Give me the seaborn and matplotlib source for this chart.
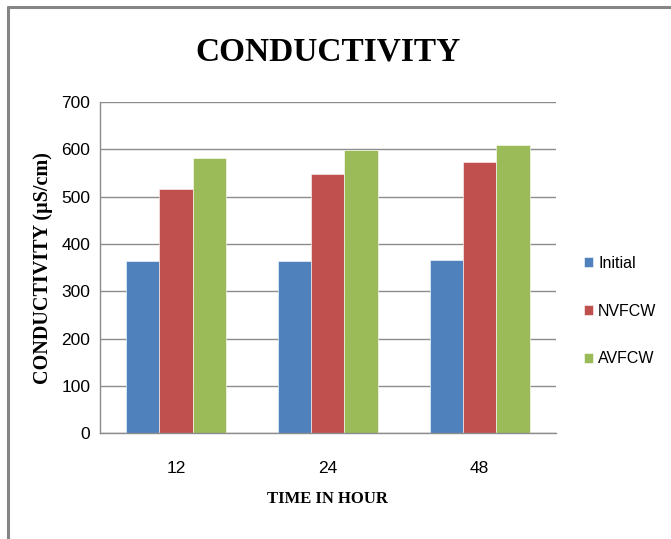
import numpy as np
import pandas as pd
import matplotlib.pyplot as plt
import matplotlib.lines as mlines
import seaborn as sns

# data
hours = ["12", "24", "48"]
initial = [363, 363, 366]
nvfcw = [515, 548, 573]
avfcw = [582, 599, 609]
series = ["Initial", "NVFCW", "AVFCW"]
colors = ["#4f81bd", "#c0504d", "#9bbb59"]
yticks = [0, 100, 200, 300, 400, 500, 600, 700]

df = pd.DataFrame({
    "hour": hours * 3,
    "value": initial + nvfcw + avfcw,
    "series": [s for s in series for _ in hours],
})

sns.set_theme(style="white")
narrow = ["Liberation Sans Narrow", "Liberation Sans", "DejaVu Sans"]
serif = ["Liberation Serif", "DejaVu Serif"]
plt.rcParams["font.family"] = narrow
plt.rcParams["text.color"] = "black"
plt.rcParams["xtick.color"] = "black"
plt.rcParams["ytick.color"] = "black"
plt.rcParams["axes.labelcolor"] = "black"

fig = plt.figure(figsize=(6.71, 5.39), dpi=100)
ax = fig.add_axes([0.149, 0.196, 0.679, 0.615])

sns.barplot(data=df, x="hour", y="value", hue="series", hue_order=series,
            palette=colors, width=0.66, ax=ax, saturation=1,
            edgecolor="white", linewidth=0.4)

ax.set_ylim(0, 700)
ax.set_yticks(yticks)
ax.set_xlim(-0.5, 2.5)
ax.yaxis.grid(True, color="#8c8c8c", linewidth=1.0)
ax.set_axisbelow(True)
for side in ["top", "right"]:
    ax.spines[side].set_visible(False)
for side in ["left", "bottom"]:
    ax.spines[side].set_color("#8c8c8c")
    ax.spines[side].set_linewidth(1.0)
ax.tick_params(axis="y", length=4, color="#8c8c8c", width=1.0, labelsize=12.5,
               pad=3, labelcolor="black")
ax.tick_params(axis="x", length=0, labelsize=12.5, pad=20, labelcolor="black")

ax.set_title("CONDUCTIVITY", family=serif, fontweight="bold", fontsize=24,
             pad=30, color="black")
ax.set_ylabel("CONDUCTIVITY (\u00b5S/cm)", family=serif, fontweight="bold",
              fontsize=14.5, labelpad=6, color="black")
ax.set_xlabel("TIME IN HOUR", family=serif, fontweight="bold", fontsize=12,
              labelpad=11, color="black")

leg = ax.legend(loc="center left", bbox_to_anchor=(1.03, 0.369), frameon=False,
                fontsize=11.5, handlelength=0.6, handleheight=0.6,
                handletextpad=0.3, labelspacing=2.05)
leg.set_title(None)
for t in leg.get_texts():
    t.set_color("black")

# figure frame (top and left edges visible)
fig.add_artist(mlines.Line2D([8 / 671, 1.0], [1 - 7 / 539, 1 - 7 / 539],
                             color="#868686", linewidth=2.2,
                             transform=fig.transFigure))
fig.add_artist(mlines.Line2D([8 / 671, 8 / 671], [0.0, 1 - 7 / 539],
                             color="#868686", linewidth=2.2,
                             transform=fig.transFigure))

fig.savefig("out.png", dpi=100)
